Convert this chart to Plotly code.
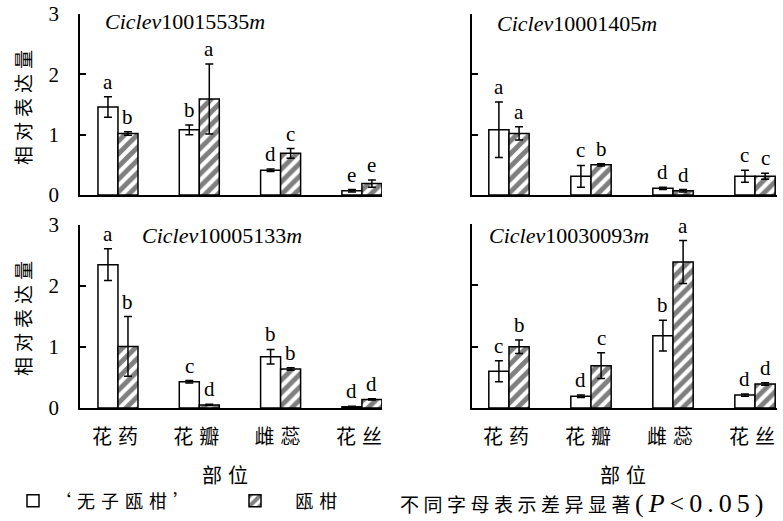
import plotly.graph_objects as go

categories = ['花药', '花瓣', '雌蕊', '花丝']
genes = ['10015535', '10001405', '10005133', '10030093']

# '无子瓯柑' (white bars)
wuzi_vals = [[1.46, 1.08, 0.41, 0.07],
             [1.08, 0.31, 0.11, 0.31],
             [2.35, 0.43, 0.84, 0.02],
             [0.60, 0.19, 1.18, 0.21]]
wuzi_err = [[0.17, 0.08, 0.02, 0.02],
            [0.46, 0.18, 0.02, 0.10],
            [0.26, 0.02, 0.12, 0.01],
            [0.17, 0.02, 0.25, 0.02]]
wuzi_letters = [['a', 'b', 'd', 'e'],
                ['a', 'c', 'd', 'c'],
                ['a', 'c', 'b', 'd'],
                ['c', 'd', 'b', 'd']]

# 瓯柑 (hatched bars)
ou_vals = [[1.02, 1.59, 0.69, 0.19],
           [1.02, 0.50, 0.07, 0.31],
           [1.01, 0.05, 0.64, 0.14],
           [1.00, 0.69, 2.38, 0.39]]
ou_err = [[0.03, 0.58, 0.08, 0.06],
          [0.11, 0.02, 0.02, 0.05],
          [0.49, 0.01, 0.02, 0.01],
          [0.11, 0.21, 0.35, 0.02]]
ou_letters = [['b', 'a', 'c', 'e'],
              ['a', 'b', 'd', 'c'],
              ['b', 'd', 'b', 'd'],
              ['b', 'c', 'a', 'd']]

yticks = [0, 1, 2, 3]

W, H = 783, 521
SERIF = 'Liberation Serif'
CJK = 'Noto Sans CJK SC'


def px(x):
    return x / W


def py(y):
    return 1 - y / H


def spaced(t, sp):
    return f'<span style="letter-spacing:{sp}px">{t}</span>'


# panel geometry in pixels: (x_left, x_right, y_top, y_bottom)
geo = [(80, 382, 14, 195), (472, 777, 14, 195),
       (80, 382, 225, 408), (472, 777, 224, 408)]
xranges = [[-0.467, 3.247], [-0.451, 3.268], [-0.467, 3.247], [-0.451, 3.268]]
gene_pos = [(103, 22), (495, 23), (140, 235), (487, 235)]

bw = 0.246
fig = go.Figure()
annotations = []
xs = list(range(len(categories)))

for i in range(4):
    xa = 'x' if i == 0 else f'x{i + 1}'
    ya = 'y' if i == 0 else f'y{i + 1}'
    fig.add_trace(go.Bar(
        x=xs, y=wuzi_vals[i], width=bw, offset=-bw,
        marker=dict(color='white', line=dict(color='black', width=1.5)),
        error_y=dict(type='data', array=wuzi_err[i], color='black', thickness=1.5, width=4),
        xaxis=xa, yaxis=ya, name=spaced('‘无子瓯柑’', 6),
        showlegend=(i == 0), legend='legend'))
    fig.add_trace(go.Bar(
        x=xs, y=ou_vals[i], width=bw, offset=0,
        marker=dict(color='white', line=dict(color='black', width=1.5),
                    pattern=dict(shape='/', fgcolor='black', bgcolor='white', size=9, solidity=0.55)),
        error_y=dict(type='data', array=ou_err[i], color='black', thickness=1.5, width=4),
        xaxis=xa, yaxis=ya, name='\u00a0' * 5 + spaced('瓯柑', 6),
        showlegend=(i == 0), legend='legend2'))
    for j in xs:
        annotations.append(dict(x=j - bw / 2, y=wuzi_vals[i][j] + wuzi_err[i][j], xref=xa, yref=ya,
                                text=wuzi_letters[i][j], showarrow=False, yanchor='bottom', yshift=1,
                                font=dict(family=SERIF, size=21, color='black')))
        annotations.append(dict(x=j + bw / 2, y=ou_vals[i][j] + ou_err[i][j], xref=xa, yref=ya,
                                text=ou_letters[i][j], showarrow=False, yanchor='bottom', yshift=1,
                                font=dict(family=SERIF, size=21, color='black')))
    gx, gy = gene_pos[i]
    annotations.append(dict(x=px(gx), y=py(gy), xref='paper', yref='paper', xanchor='left', yanchor='middle',
                            text=f'<i>Ciclev</i>{genes[i]}<i>m</i>', showarrow=False,
                            font=dict(family=SERIF, size=22, color='black')))

# y-axis titles
for yc in [105, 316]:
    annotations.append(dict(x=px(22), y=py(yc), xref='paper', yref='paper', xanchor='center', yanchor='middle',
                            text=spaced('相对表达量', 5), textangle=-90, showarrow=False,
                            font=dict(family=CJK, size=19, color='black')))
# x-axis titles
for xc in [228, 626]:
    annotations.append(dict(x=px(xc), y=py(474), xref='paper', yref='paper', xanchor='center', yanchor='middle',
                            text=spaced('部位', 6), showarrow=False,
                            font=dict(family=CJK, size=20, color='black')))
# significance note
annotations.append(dict(x=px(398), y=py(503), xref='paper', yref='paper', xanchor='left', yanchor='middle',
                        text=spaced('不同字母表示差异显著', 4.5) +
                        '<span style="font-family:Liberation Serif;font-size:26px;letter-spacing:5px">'
                        '(<i>P</i>&lt;0.05)</span>',
                        showarrow=False, font=dict(family=CJK, size=19, color='black')))

layout = dict(
    width=W, height=H, margin=dict(l=0, r=0, t=0, b=0, autoexpand=False),
    plot_bgcolor='white', paper_bgcolor='white', barmode='overlay',
    annotations=annotations, font=dict(family=CJK, color='black'),
    legend=dict(x=px(13), y=py(501), xanchor='left', yanchor='middle', orientation='h',
                font=dict(family=CJK, size=18, color='black'), bgcolor='rgba(0,0,0,0)'),
    legend2=dict(x=px(235), y=py(501), xanchor='left', yanchor='middle', orientation='h',
                 font=dict(family=CJK, size=18, color='black'), bgcolor='rgba(0,0,0,0)'),
)

for i in range(4):
    xl, xr, yt, yb = geo[i]
    xk = 'xaxis' if i == 0 else f'xaxis{i + 1}'
    yk = 'yaxis' if i == 0 else f'yaxis{i + 1}'
    ya = 'y' if i == 0 else f'y{i + 1}'
    xa = 'x' if i == 0 else f'x{i + 1}'
    bottom = i >= 2
    layout[xk] = dict(domain=[px(xl), px(xr)], anchor=ya, range=xranges[i],
                      showline=True, linecolor='black', linewidth=1.5, ticks='',
                      showgrid=False, zeroline=False, fixedrange=True,
                      tickvals=xs, ticktext=[spaced(c, 6) for c in categories],
                      showticklabels=bottom, ticklabelstandoff=10,
                      tickfont=dict(family=CJK, size=20, color='black'))
    layout[yk] = dict(domain=[py(yb), py(yt)], anchor=xa, range=[0, 3],
                      showline=True, linecolor='black', linewidth=1.5,
                      ticks='inside', ticklen=6, tickwidth=1.5, tickcolor='black',
                      tickvals=yticks, showgrid=False, zeroline=False, fixedrange=True,
                      showticklabels=(i % 2 == 0), ticklabelstandoff=15,
                      tickfont=dict(family=SERIF, size=21, color='black'))

fig.update_layout(**layout)
fig.write_html('out.html', config={'displayModeBar': False},
               post_script="document.body.style.margin='0';document.body.style.overflow='hidden';")
